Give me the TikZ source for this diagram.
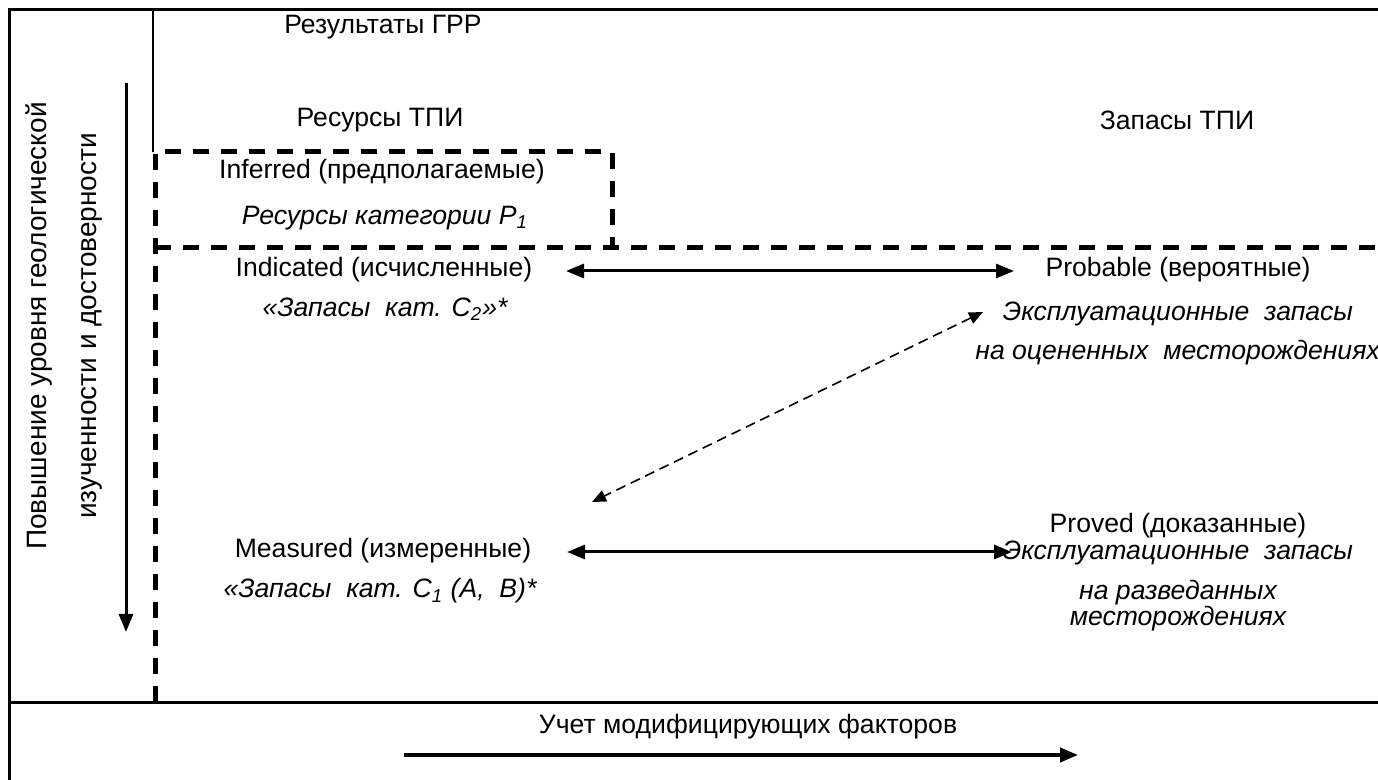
\documentclass[tikz,border=0pt]{standalone}
\usepackage{fontspec}
\setmainfont{Liberation Sans}
\usetikzlibrary{arrows.meta}
\tikzset{>={Triangle[length=9pt,width=7pt]}}

\begin{document}
\begin{tikzpicture}[x=0.5pt,y=-0.5pt,
    lbl/.style={font=\fontsize{13.3}{13}\selectfont, inner sep=0pt},
    ilbl/.style={lbl, font=\fontsize{13.3}{13}\selectfont\itshape},
    vlbl/.style={inner sep=0pt, rotate=90, font=\fontsize{14}{16}\selectfont},
    border/.style={line width=1.5pt},
    bound/.style={line width=2.5pt, dash pattern=on 8pt off 6pt},
    link/.style={line width=1.5pt, <->}]
    \useasboundingbox (0,0) rectangle (1378,780);
    \fill[white] (0,0) rectangle (1378,780);

    \draw[border] (1378,10) -- (9,10) -- (9,780);
    \draw[border] (9,703) -- (1378,703);
    \draw[line width=0.8pt] (153,10) -- (153,152);

    \draw[bound] (155,702) -- (155,152) -- (612,152) -- (612,248);
    \draw[bound] (155,248) -- (1378,248);

    \node[vlbl] (rise1) at (39,326) {Повышение уровня геологической};
    \node[vlbl] (rise2) at (92,326) {изученности и достоверности};
    \coordinate (up) at (126,83);
    \coordinate (down) at (126,632);
    \draw[line width=1.5pt, ->] (up) -- (down);

    \node[lbl] (results) at (383,27) {Результаты ГРР};
    \node[lbl] (resources) at (380,120) {Ресурсы ТПИ};
    \node[lbl] (reserves) at (1177,120) {Запасы ТПИ};

    \node[lbl] (inferred) at (382,172) {Inferred (предполагаемые)};
    \node[ilbl] (p1) at (385,218) {Ресурсы категории Р\textsubscript{1}};

    \node[lbl] (indicated) at (384,270) {Indicated (исчисленные)};
    \node[ilbl] (c2) at (385,309) {«Запасы~~кат. С\textsubscript{2}»*};
    \node[lbl] (probable) at (1178,270) {Probable (вероятные)};
    \node[ilbl] (expl1) at (1178,314) {Эксплуатационные~~запасы};
    \node[ilbl, anchor=west] (assessed) at (975,353) {на оцененных~~месторождениях};

    \node[lbl] (proved) at (1178,526) {Proved (доказанные)};
    \node[lbl] (measured) at (383,551) {Measured (измеренные)};
    \node[ilbl] (c1) at (380,591) {«Запасы~~кат. С\textsubscript{1} (А,~~В)*};
    \node[ilbl] (expl2) at (1178,553) {Эксплуатационные~~запасы};
    \node[ilbl, align=center] (explored) at (1178,606) {на разведанных\\месторождениях};

    \coordinate (ind-r) at (566,271);
    \coordinate (prob-l) at (1014,271);
    \draw[link] (ind-r) -- (prob-l);
    \coordinate (meas-r) at (567,552);
    \coordinate (prov-l) at (1012,552);
    \draw[link] (meas-r) -- (prov-l);
    \coordinate (diag-a) at (983,312);
    \coordinate (diag-b) at (592,502);
    \draw[line width=0.8pt, dash pattern=on 5pt off 3pt,
        {Triangle[length=7pt,width=6pt]}-{Triangle[length=7pt,width=6pt]}] (diag-a) -- (diag-b);

    \node[lbl] (factors) at (748,727) {Учет модифицирующих факторов};
    \coordinate (f-start) at (404,755);
    \coordinate (f-end) at (1078,755);
    \draw[line width=2pt, ->] (f-start) -- (f-end);
\end{tikzpicture}
\end{document}
